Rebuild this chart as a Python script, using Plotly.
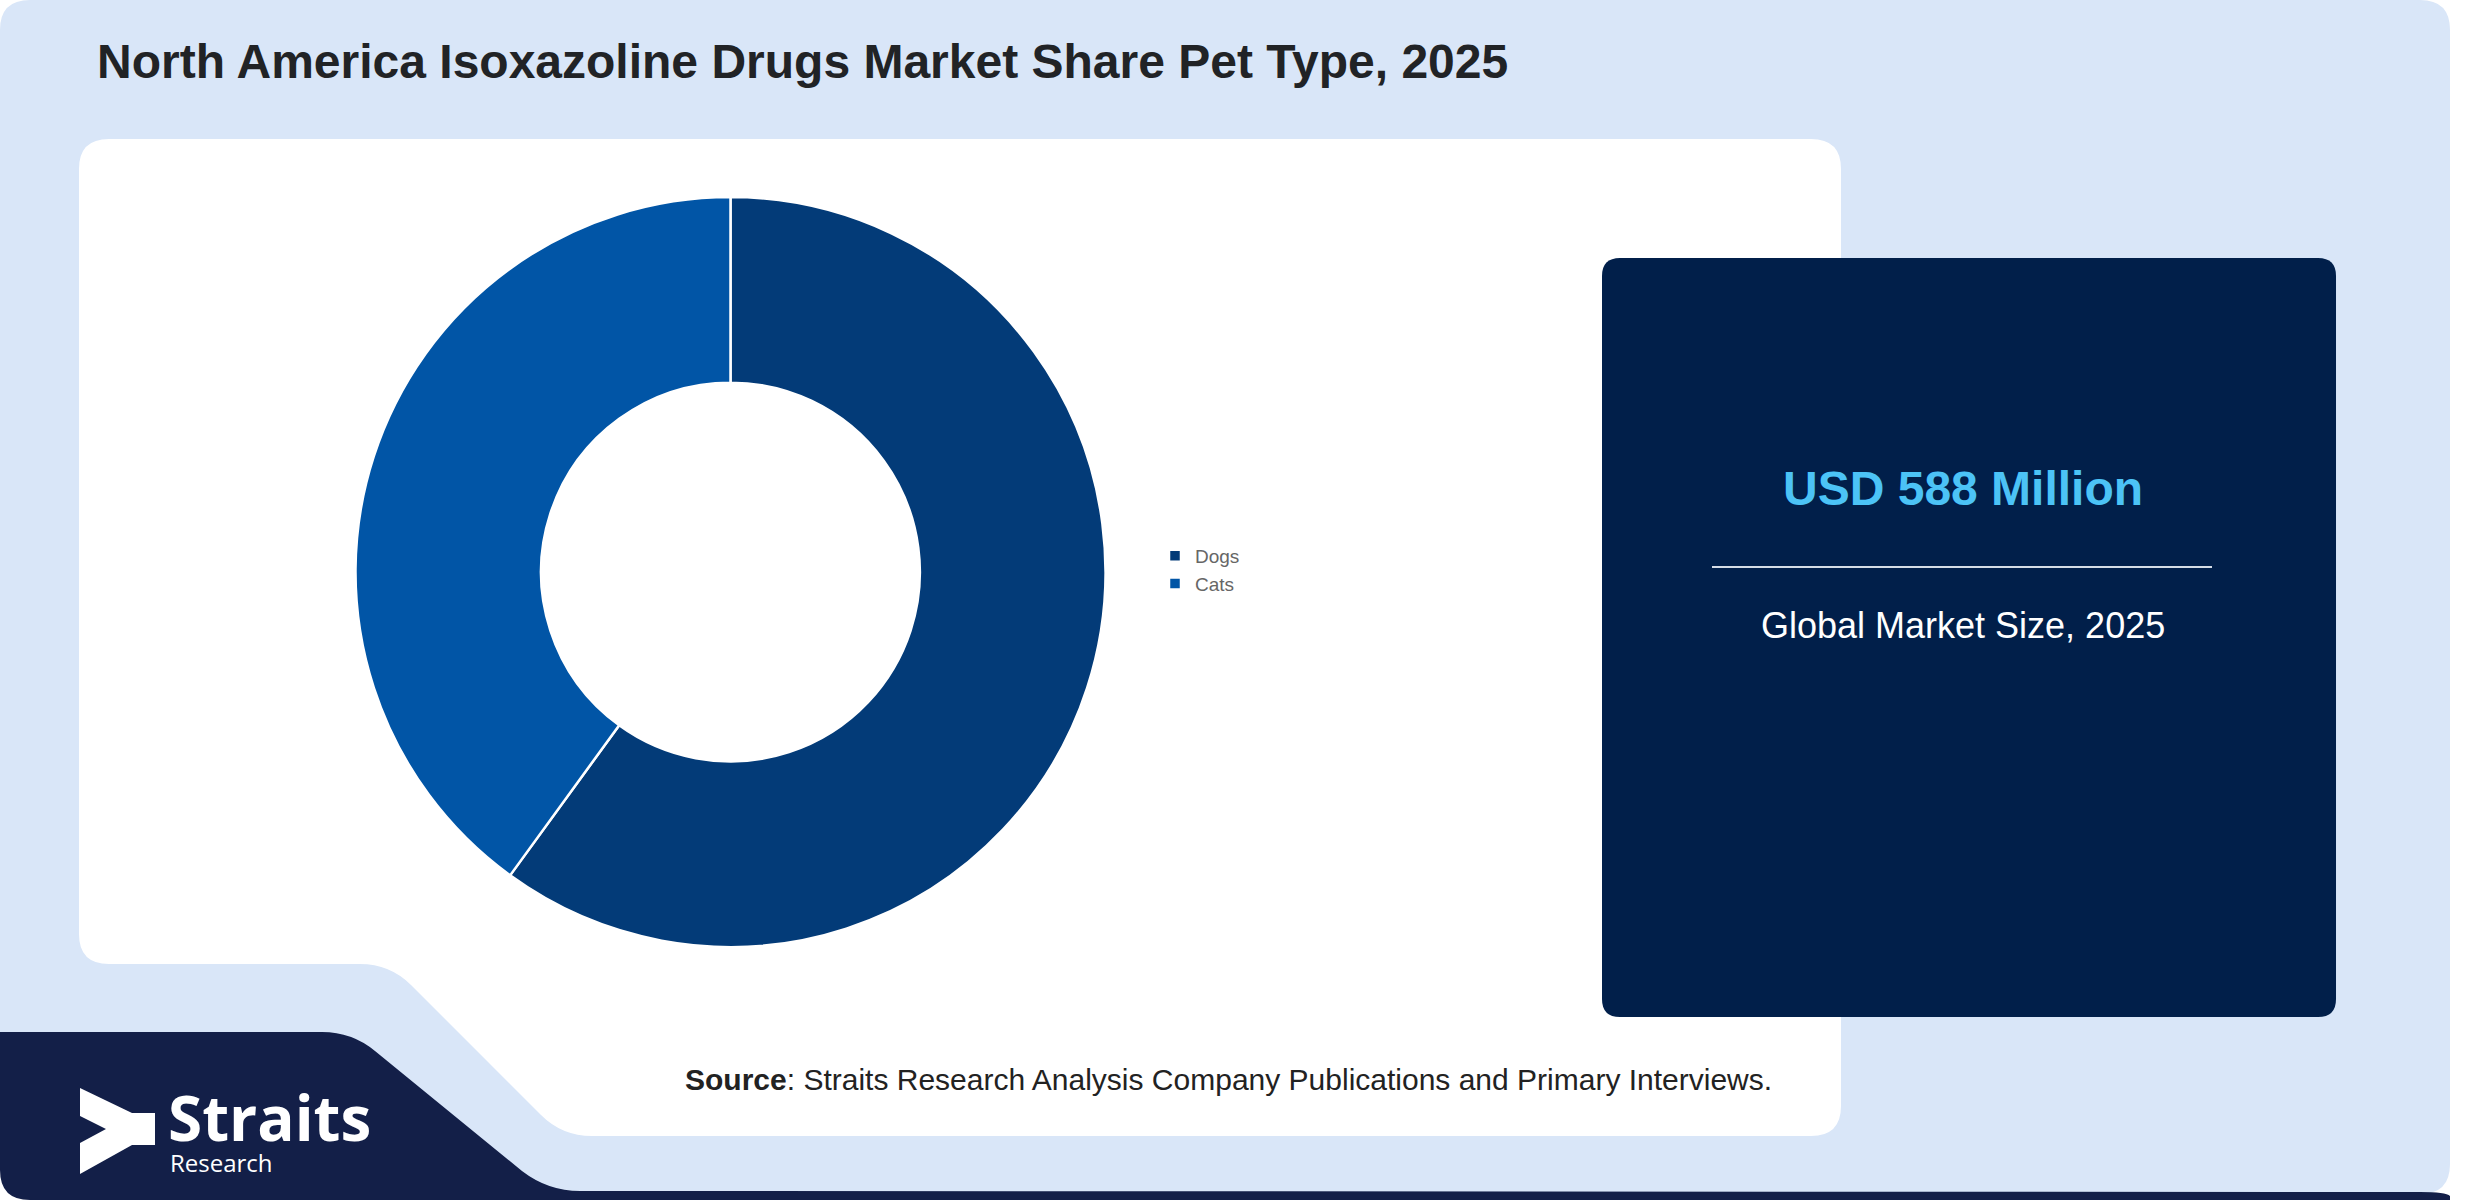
import plotly.graph_objects as go

# ---------------- data ----------------
categories = ["Dogs", "Cats"]
shares = [60, 40]
slice_colors = ["#033b78", "#0155a6"]

title_text = "North America Isoxazoline Drugs Market Share Pet Type, 2025"
kpi_value = "USD 588 Million"
kpi_label = "Global Market Size, 2025"
source_text = "<b>Source</b>: Straits Research Analysis Company Publications and Primary Interviews."

W, H = 2480, 1200
FONT = "Liberation Sans, Arial, sans-serif"


def px(x):
    return x / W


def py(y):
    return 1 - y / H


def path(cmds):
    """cmds: list of (letter, [x, y, x, y, ...]) in pixel coords -> paper path."""
    out = []
    for c, pts in cmds:
        if c == "Z":
            out.append("Z")
            continue
        conv = []
        for i in range(0, len(pts), 2):
            conv.append(f"{px(pts[i]):.5f},{py(pts[i + 1]):.5f}")
        out.append(c + " ".join(conv))
    return " ".join(out)


def rrect(x0, y0, x1, y1, r):
    return path([
        ("M", [x0 + r, y0]), ("L", [x1 - r, y0]), ("Q", [x1, y0, x1, y0 + r]),
        ("L", [x1, y1 - r]), ("Q", [x1, y1, x1 - r, y1]),
        ("L", [x0 + r, y1]), ("Q", [x0, y1, x0, y1 - r]),
        ("L", [x0, y0 + r]), ("Q", [x0, y0, x0 + r, y0]), ("Z", []),
    ])


shapes = []
# light blue card
shapes.append(dict(type="path", xref="paper", yref="paper", layer="below",
                   path=rrect(0, 0, 2450, 1194, 30),
                   fillcolor="#d9e6f8", line=dict(width=0)))
# navy logo band (bottom-left with diagonal, thin strip along bottom)
shapes.append(dict(type="path", xref="paper", yref="paper", layer="below",
                   path=path([
                       ("M", [0, 1032]), ("L", [322, 1032]), ("Q", [352, 1032, 375, 1051]),
                       ("L", [522, 1171]), ("Q", [548, 1191, 580, 1191]),
                       ("L", [2420, 1192]), ("Q", [2446, 1192, 2450, 1196]),
                       ("L", [2450, 1200]), ("L", [30, 1200]), ("Q", [0, 1200, 0, 1170]), ("Z", []),
                   ]),
                   fillcolor="#131f48", line=dict(width=0)))
# white chart panel with notch
shapes.append(dict(type="path", xref="paper", yref="paper", layer="below",
                   path=path([
                       ("M", [109, 139]), ("L", [1811, 139]), ("Q", [1841, 139, 1841, 169]),
                       ("L", [1841, 1106]), ("Q", [1841, 1136, 1811, 1136]),
                       ("L", [592, 1136]), ("Q", [562, 1136, 541, 1115]),
                       ("L", [411, 985]), ("Q", [390, 964, 360, 964]),
                       ("L", [109, 964]), ("Q", [79, 964, 79, 934]),
                       ("L", [79, 169]), ("Q", [79, 139, 109, 139]), ("Z", []),
                   ]),
                   fillcolor="#ffffff", line=dict(width=0)))
# dark KPI box
shapes.append(dict(type="path", xref="paper", yref="paper", layer="below",
                   path=rrect(1602, 258, 2336, 1017, 18),
                   fillcolor="#011f4a", line=dict(width=0)))
# divider line in KPI box
shapes.append(dict(type="line", xref="paper", yref="paper", layer="below",
                   x0=px(1712), x1=px(2212), y0=py(567), y1=py(567),
                   line=dict(color="#d5dce6", width=2)))
# logo chevron
shapes.append(dict(type="path", xref="paper", yref="paper", layer="below",
                   path=path([
                       ("M", [80, 1088]), ("L", [132, 1113]), ("L", [155, 1113]),
                       ("L", [155, 1145]), ("L", [132, 1145]), ("L", [80, 1174]),
                       ("L", [80, 1143]), ("L", [106, 1129]), ("L", [80, 1116]), ("Z", []),
                   ]),
                   fillcolor="#ffffff", line=dict(width=0)))

annotations = [
    dict(text=f"<b>{title_text}</b>", x=px(95), y=py(62), xref="paper", yref="paper",
         xanchor="left", yanchor="middle", showarrow=False,
         font=dict(family=FONT, size=48, color="#212326")),
    dict(text=f"<b>{kpi_value}</b>", x=px(1963), y=py(488), xref="paper", yref="paper",
         xanchor="center", yanchor="middle", showarrow=False,
         font=dict(family=FONT, size=48, color="#4cc3f6")),
    dict(text=kpi_label, x=px(1963), y=py(626), xref="paper", yref="paper",
         xanchor="center", yanchor="middle", showarrow=False,
         font=dict(family=FONT, size=36, color="#ffffff")),
    dict(text=source_text, x=px(683), y=py(1079), xref="paper", yref="paper",
         xanchor="left", yanchor="middle", showarrow=False,
         font=dict(family=FONT, size=30, color="#222222")),
    dict(text="<b>Straits</b>", x=px(166), y=py(1117), xref="paper", yref="paper",
         xanchor="left", yanchor="middle", showarrow=False,
         font=dict(family="Open Sans, sans-serif", size=62, color="#ffffff")),
    dict(text="Research", x=px(168), y=py(1162), xref="paper", yref="paper",
         xanchor="left", yanchor="middle", showarrow=False,
         font=dict(family="Open Sans, sans-serif", size=24, color="#ffffff")),
]

fig = go.Figure()
fig.add_trace(go.Pie(
    labels=categories,
    values=shares,
    hole=0.505,
    sort=False,
    direction="clockwise",
    rotation=0,
    textinfo="none",
    hoverinfo="label+percent",
    marker=dict(colors=slice_colors, line=dict(color="#ffffff", width=2.5)),
    domain=dict(x=[px(355.5), px(1105.5)], y=[py(947), py(197)]),
))

fig.update_layout(
    width=W, height=H,
    margin=dict(l=0, r=0, t=0, b=0),
    paper_bgcolor="#ffffff",
    plot_bgcolor="rgba(0,0,0,0)",
    shapes=shapes,
    annotations=annotations,
    showlegend=True,
    legend=dict(
        x=px(1155), y=py(570), xanchor="left", yanchor="middle",
        orientation="v", bgcolor="rgba(0,0,0,0)",
        font=dict(family=FONT, size=19, color="#666666"),
        itemclick=False, itemdoubleclick=False,
    ),
)

fig.write_html(
    "out.html",
    config={"displayModeBar": False},
    post_script="document.body.style.margin='0';document.body.style.padding='0';",
)
